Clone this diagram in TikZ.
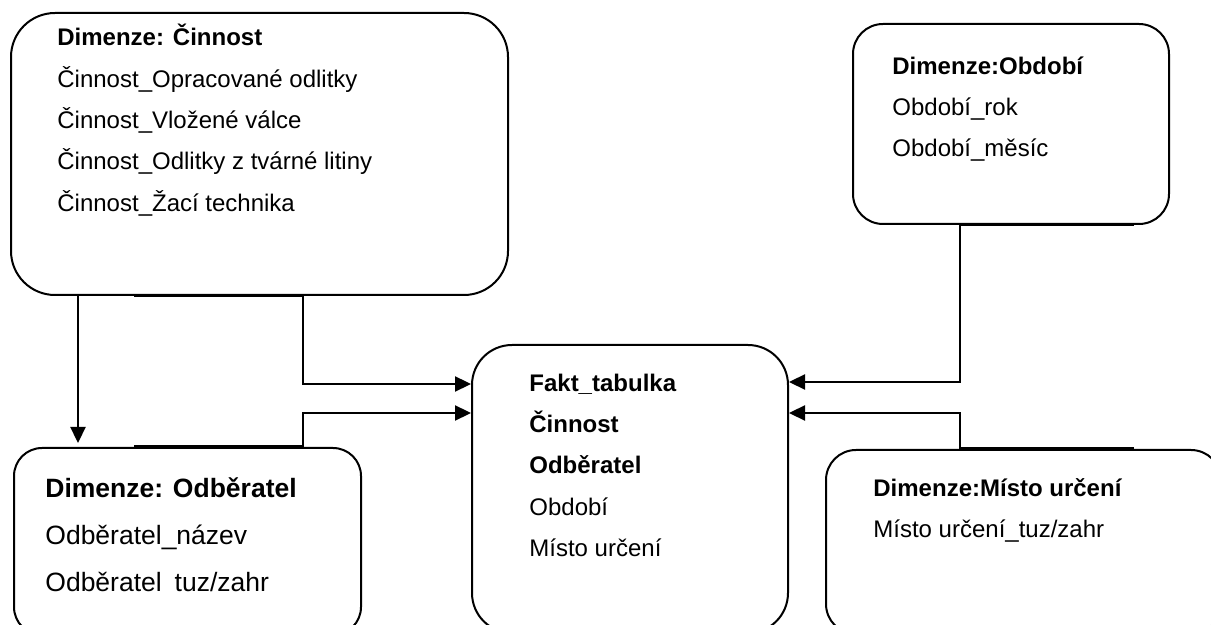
\documentclass[tikz,border=0pt]{standalone}
\usepackage{fontspec}
\setmainfont{Liberation Sans}
\usetikzlibrary{arrows.meta,calc}
\begin{document}
\begin{tikzpicture}[x=0.5pt,y=-0.5pt,
  box/.style={draw=black,line width=1pt,rectangle,anchor=north west,inner sep=0pt},
  txt/.style={anchor=base west,inner sep=0pt,font=\fontsize{12pt}{14pt}\selectfont},
  bigtxt/.style={anchor=base west,inner sep=0pt,font=\fontsize{13.25pt}{16pt}\selectfont},
  conn/.style={line width=1.15pt},
  arr/.style={conn,-{Triangle[length=8pt,width=7.5pt]}}]
\useasboundingbox (0,0) rectangle (1211,625);
\fill[white] (0,0) rectangle (1211,625);
\clip (0,0) rectangle (1211,625);

% dimension and fact tables
\node[box,rounded corners=22pt,minimum width=248.5pt,minimum height=141pt] (cin) at (10,12) {};
\node[box,rounded corners=14pt,minimum width=173.5pt,minimum height=93.5pt] (odb) at (13,447) {};
\node[box,rounded corners=20pt,minimum width=158pt,minimum height=144pt] (fakt) at (471,344) {};
\node[box,rounded corners=15pt,minimum width=158pt,minimum height=100pt] (obd) at (852,23) {};
\node[box,rounded corners=15pt,minimum width=197.5pt,minimum height=92pt] (mis) at (825,449) {};

% table contents
\node[txt] (cin0) at (57,46) {\textbf{Dimenze: Činnost}};
\node[txt] (cin1) at (57,88) {Činnost\_Opracované odlitky};
\node[txt] (cin2) at (57,129) {Činnost\_Vložené válce};
\node[txt] (cin3) at (57,170) {Činnost\_Odlitky z tvárné litiny};
\node[txt] (cin4) at (57,212) {Činnost\_Žací technika};

\node[bigtxt] (odb0) at (45,498) {\textbf{Dimenze: Odběratel}};
\node[bigtxt] (odb1) at (45,545) {Odběratel\_název};
\node[bigtxt] (odb2) at (45,592) {Odběratel\hspace{6.5pt}tuz/zahr};

\node[txt] (fakt0) at (529,392) {\textbf{Fakt\_tabulka}};
\node[txt] (fakt1) at (529,433) {\textbf{Činnost}};
\node[txt] (fakt2) at (529,474) {\textbf{Odběratel}};
\node[txt] (fakt3) at (529,516) {Období};
\node[txt] (fakt4) at (529,557) {Místo určení};

\node[txt] (obd0) at (892,75) {\textbf{Dimenze:Období}};
\node[txt] (obd1) at (892,116) {Období\_rok};
\node[txt] (obd2) at (892,157) {Období\_měsíc};

\node[txt] (mis0) at (873,497) {\textbf{Dimenze:Místo určení}};
\node[txt] (mis1) at (873,538) {Místo určení\_tuz/zahr};

% connectors
\coordinate (x78) at (78,0);
\draw[arr,shorten >=2pt] (cin.south -| x78) -- (odb.north -| x78);

\coordinate (cA) at (134,295.5);
\coordinate (cB) at (303,295.5);
\coordinate (cE) at (303,384);
\draw[arr] (cA) -- (cB) -- (cE) -- (cE -| fakt.west);

\coordinate (oA) at (134,446);
\coordinate (oB) at (303,446);
\coordinate (oE) at (303,413);
\draw[arr] (oA) -- (oB) -- (oE) -- (oE -| fakt.west);

\coordinate (pA) at (1134,224.5);
\coordinate (pB) at (960,224.5);
\coordinate (pE) at (960,382);
\draw[arr] (pA) -- (pB) -- (pE) -- (pE -| fakt.east);

\coordinate (mA) at (1134,448);
\coordinate (mB) at (960,448);
\coordinate (mE) at (960,413);
\draw[arr] (mA) -- (mB) -- (mE) -- (mE -| fakt.east);
\end{tikzpicture}
\end{document}
